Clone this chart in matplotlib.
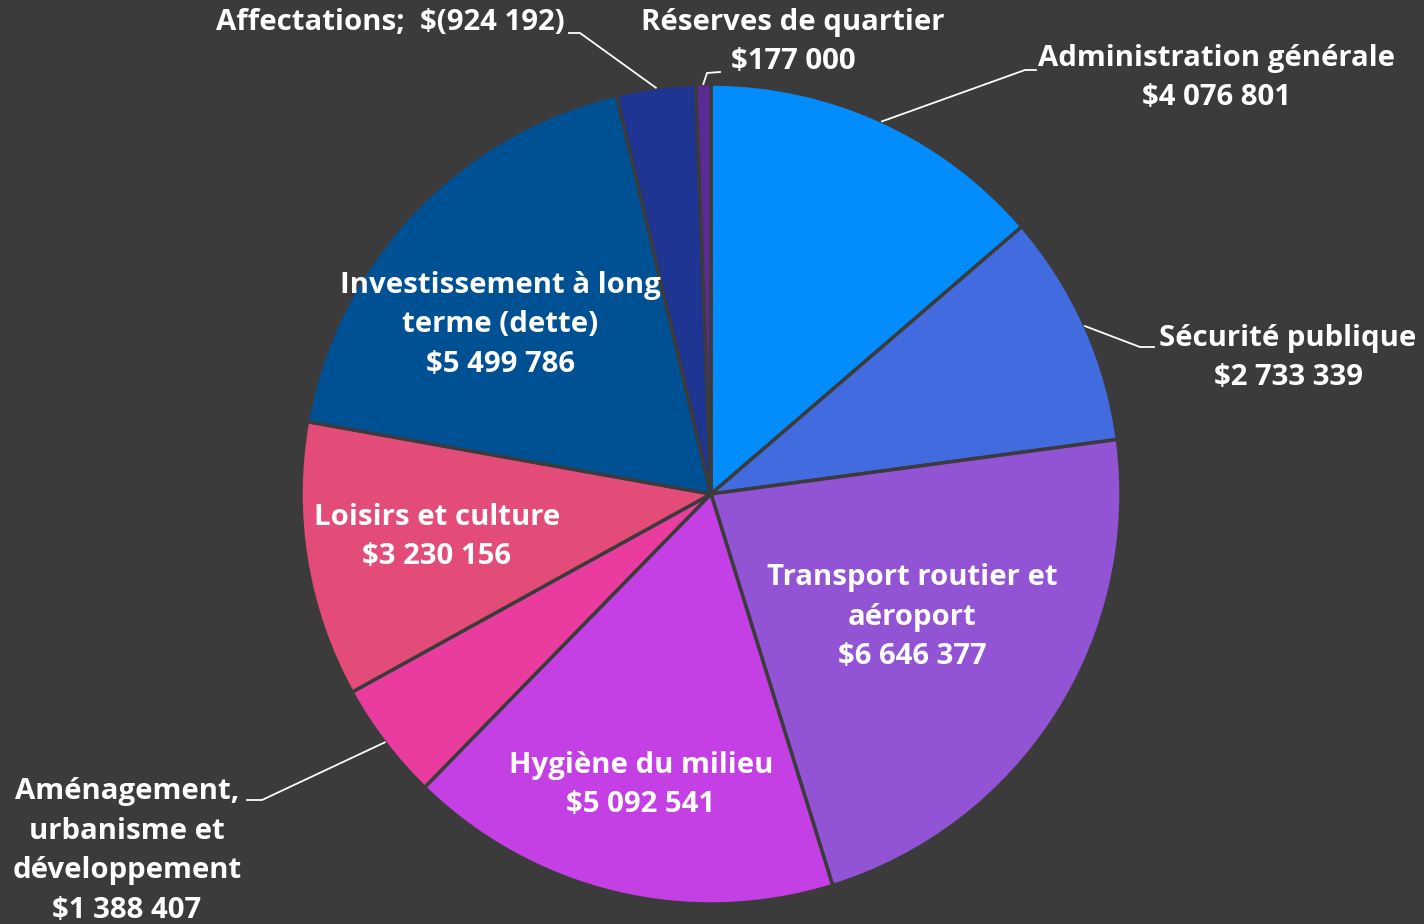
import numpy as np
import matplotlib.pyplot as plt

plt.rcParams['font.family'] = ['Open Sans', 'DejaVu Sans']

# Données du budget
postes = ['Administration générale', 'Sécurité publique', 'Transport routier et\naéroport',
          'Hygiène du milieu', 'Aménagement,\nurbanisme et\ndéveloppement', 'Loisirs et culture',
          'Investissement à long\nterme (dette)', 'Affectations', 'Réserves de quartier']
montants = [4076801, 2733339, 6646377, 5092541, 1388407, 3230156, 5499786, -924192, 177000]
couleurs = ['#038cfc', '#416bdf', '#9353d5', '#c43fe4', '#ea3c9e', '#e34b79',
            '#005194', '#1f3593', '#5c2a94']

fond = '#3b3b3b'
W, H = 1424, 924
cx, cy, R = 711, H - 494, 410

fig = plt.figure(figsize=(W / 100, H / 100), dpi=100, facecolor=fond)
ax = fig.add_axes([0, 0, 1, 1])
ax.set_facecolor(fond)

wedges, _ = ax.pie(np.abs(montants), colors=couleurs, startangle=90, counterclock=False,
                   center=(cx, cy), radius=R, frame=True,
                   wedgeprops=dict(edgecolor=fond, linewidth=2.5))
ax.set_xlim(0, W)
ax.set_ylim(0, H)
ax.axis('off')


def fmt(v):
    s = f"{abs(v):,}".replace(',', ' ')
    return f"$({s})" if v < 0 else f"${s}"


txt = dict(color='white', fontsize=21.2, fontweight='bold', ha='center', va='center', linespacing=1.47)

# étiquettes intérieures : (indice, x, y en pixels image)
interieures = [(2, 912, 617), (3, 641, 785), (5, 437, 537), (6, 500, 325)]
for i, x, y in interieures:
    ax.text(x, H - y, postes[i] + '\n' + fmt(montants[i]), **txt)

# étiquettes extérieures avec lignes de rappel : (indice, coude, fin, position texte)
exterieures = [
    (0, (1025, 70), (1036, 70), (1217, 78)),
    (1, (1140, 347), (1154, 347), (1288, 358)),
    (4, (262, 800), (247, 800), (127, 851)),
    (8, (707, 73), (720, 72), (793, 42)),
]
for i, coude, fin, pos in exterieures:
    w = wedges[i]
    a = np.deg2rad((w.theta1 + w.theta2) / 2)
    px, py = cx + R * np.cos(a), cy + R * np.sin(a)
    ax.plot([px, coude[0], fin[0]], [py, H - coude[1], H - fin[1]], color='white', lw=1.3)
    ax.text(pos[0], H - pos[1], postes[i] + '\n' + fmt(montants[i]), **txt)

# Affectations sur une seule ligne
w = wedges[7]
a = np.deg2rad((w.theta1 + w.theta2) / 2)
px, py = cx + R * np.cos(a), cy + R * np.sin(a)
ax.plot([px, 580, 569], [py, H - 33, H - 33], color='white', lw=1.3)
ax.text(565, H - 22, postes[7] + ';  ' + fmt(montants[7]), color='white', fontsize=21.2,
        fontweight='bold', ha='right', va='center')

fig.savefig('out.png', dpi=100, facecolor=fond)
